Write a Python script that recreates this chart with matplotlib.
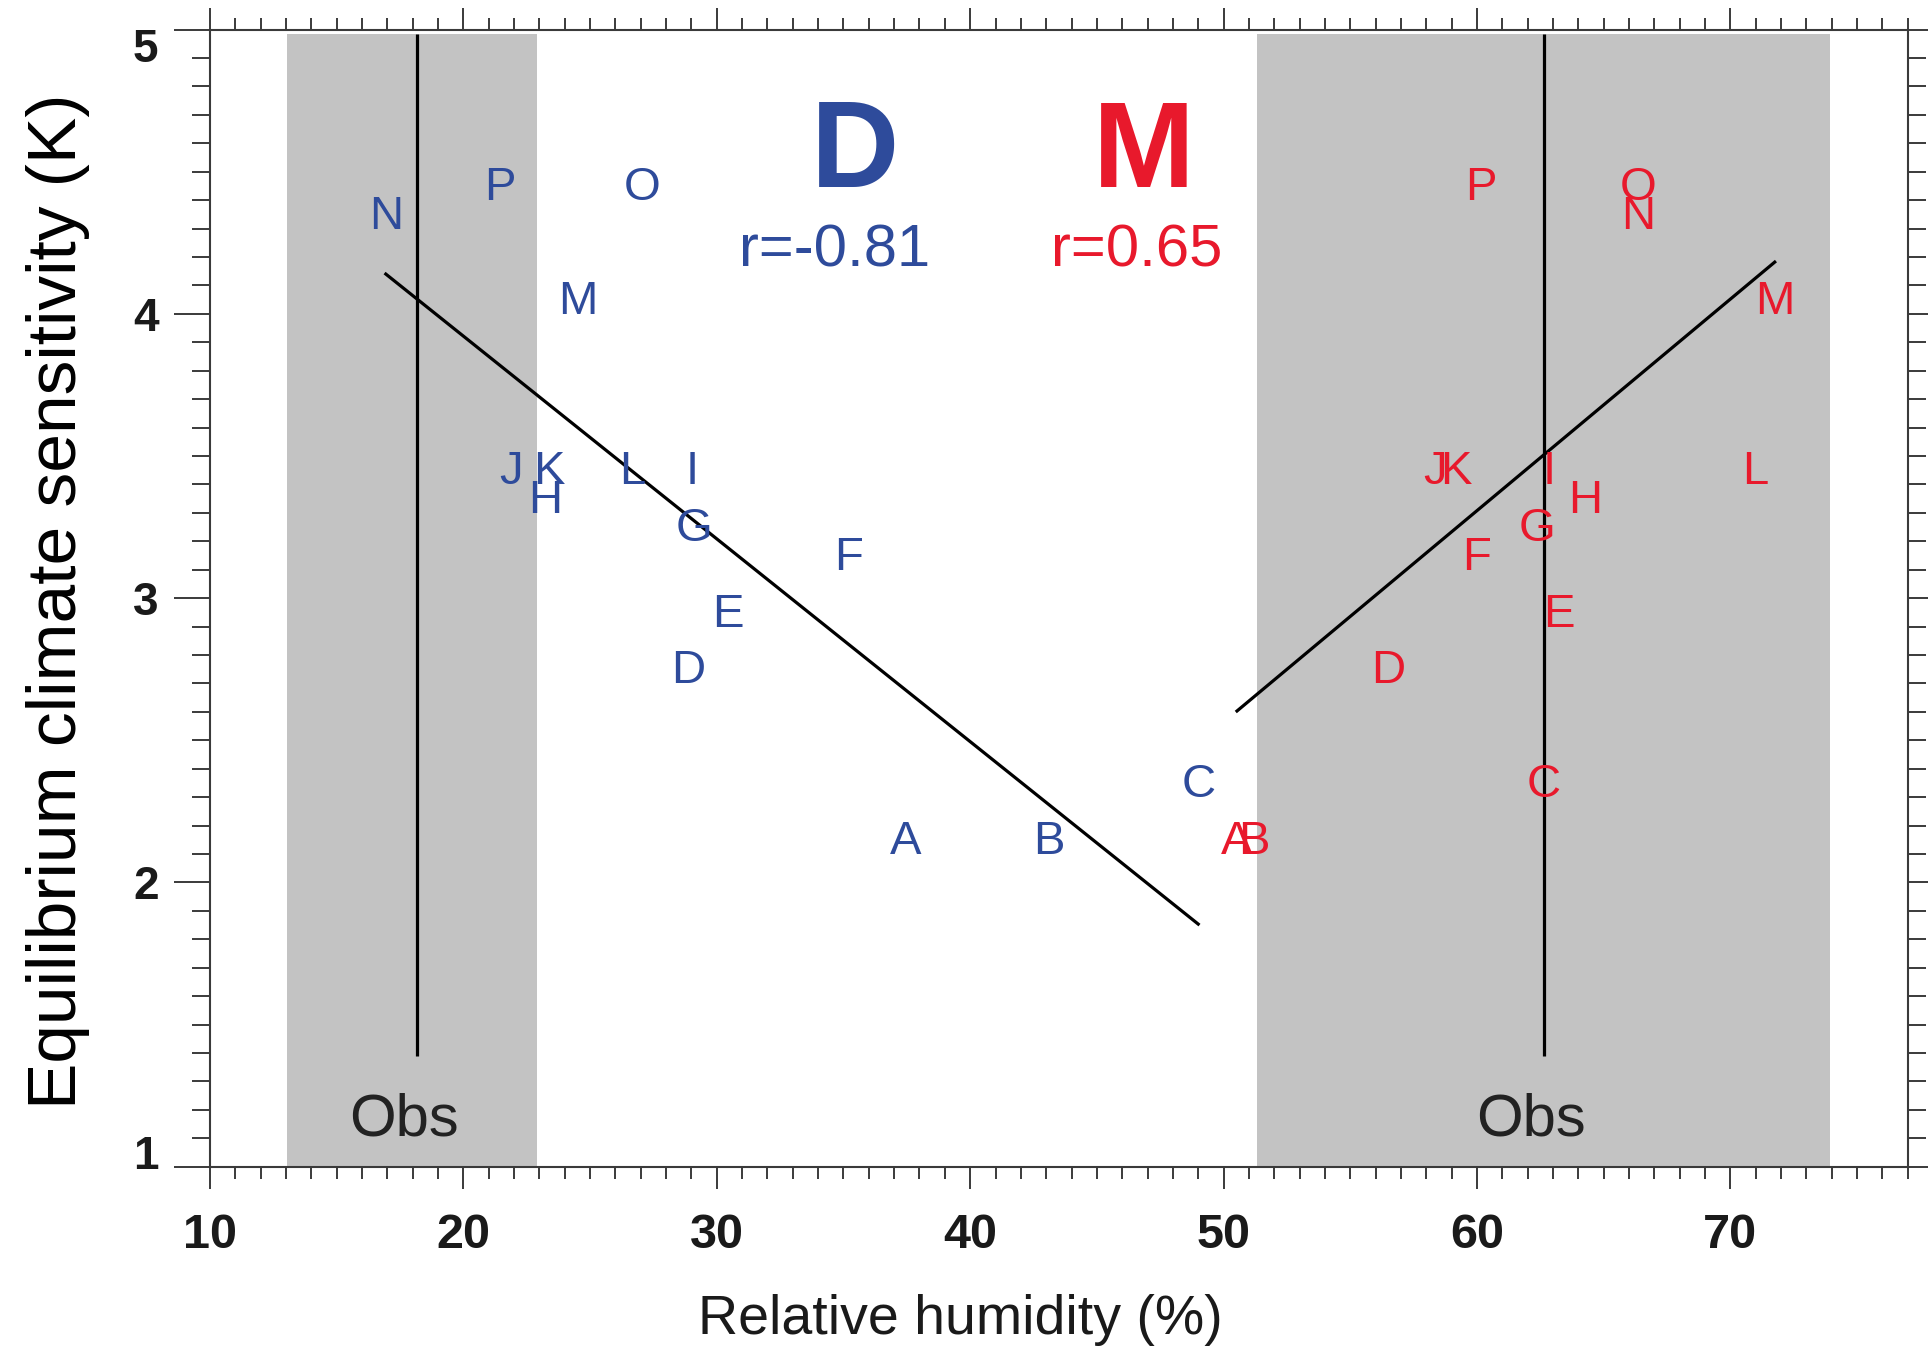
import numpy as np
import matplotlib
matplotlib.use("Agg")
import matplotlib.pyplot as plt
import matplotlib.transforms as mtransforms

plt.rcParams['font.family'] = ['Liberation Sans', 'DejaVu Sans']

# Model identifiers and their equilibrium climate sensitivity (K)
models = list("ABCDEFGHIJKLMNOP")
ecs = [2.1, 2.1, 2.3, 2.7, 2.9, 3.1, 3.2, 3.3, 3.4, 3.4, 3.4, 3.4, 4.0, 4.3, 4.4, 4.4]

# Relative humidity (%) in the dry (D) and moist (M) regions for each model
rh_dry = [37.45, 43.11, 49.0, 28.86, 30.44, 35.21, 29.11, 23.22,
          29.03, 21.88, 23.37, 26.67, 24.50, 16.94, 27.07, 21.46]
rh_moist = [50.53, 51.19, 62.65, 56.51, 63.24, 59.99, 62.36, 64.28,
            62.84, 58.36, 59.18, 70.98, 71.75, 66.35, 66.35, 60.17]

# Correlation coefficients and regression lines (slope, intercept)
r_dry, r_moist = -0.81, 0.65
fit_dry = (-0.07132, 5.348)
fit_moist = (0.07441, -1.157)

# Observational estimates: central value and range
obs_dry_mean = 18.16
obs_dry_range = (13.03, 22.90)
obs_moist_mean = 62.64
obs_moist_range = (51.32, 73.93)

xticks = [10, 20, 30, 40, 50, 60, 70]
yticks = [1, 2, 3, 4, 5]

BLUE = '#2E4B9B'
RED = '#E8192C'
GRAY = '#C3C3C3'
AXC = '#3a3a3a'

fig = plt.figure(figsize=(19.28, 13.48), dpi=100)
ax = fig.add_axes([0.1089, 0.1345, 0.8806, 0.8436])
ax.set_xlim(10, 77)
ax.set_ylim(1, 5)

band_top = 4.985
obs_line_bottom = 1.39
for (lo, hi), xm in ((obs_dry_range, obs_dry_mean), (obs_moist_range, obs_moist_mean)):
    ax.fill_between([lo, hi], 1, band_top, color=GRAY, lw=0, zorder=0)
    ax.plot([xm, xm], [obs_line_bottom, band_top], color='k', lw=2.3, zorder=2,
            solid_capstyle='butt')
    ax.text(xm - 0.5, 1.11, 'Obs', color='#222222', fontsize=43,
            ha='center', va='baseline', zorder=3)

# Regression lines spanning each model cloud
for rh, (m, b) in ((rh_dry, fit_dry), (rh_moist, fit_moist)):
    xs = np.array([min(rh), max(rh)])
    ax.plot(xs, m * xs + b, color='k', lw=2.3, zorder=3)

# Model letters
for name, e, xd, xm in zip(models, ecs, rh_dry, rh_moist):
    ax.text(xd, e, name, color=BLUE, fontsize=34, ha='center', va='baseline', zorder=4)
    ax.text(xm, e, name, color=RED, fontsize=34, ha='center', va='baseline', zorder=4)

# Panel headings and correlations
ax.text(35.45, 4.445, 'D', color=BLUE, fontsize=88, fontweight='bold',
        ha='center', va='baseline')
ax.text(46.85, 4.447, 'M', color=RED, fontsize=88, fontweight='bold',
        ha='center', va='baseline')
ax.text(34.66, 4.168, f'r={r_dry:.2f}', color=BLUE, fontsize=43,
        ha='center', va='baseline')
ax.text(46.58, 4.168, f'r={r_moist:.2f}', color=RED, fontsize=43,
        ha='center', va='baseline')

# Axes, ticks and labels
ax.set_xticks(xticks)
ax.set_xticks(np.arange(10, 78, 1), minor=True)
ax.set_yticks(yticks)
ax.set_yticks(np.arange(1, 5.001, 0.1), minor=True)
ax.set_xticklabels([str(v) for v in xticks])
ax.set_yticklabels([str(v) for v in yticks])

ax.tick_params(axis='x', which='major', direction='out', length=15.6, width=1.4,
               top=True, bottom=True, labelsize=35, pad=18, color=AXC)
ax.tick_params(axis='x', which='minor', direction='out', length=8.4, width=1.4,
               top=True, bottom=True, color=AXC)
ax.tick_params(axis='y', which='major', direction='out', length=26, width=1.4,
               left=True, right=True, labelsize=33, pad=11, color=AXC)
ax.tick_params(axis='y', which='minor', direction='out', length=13, width=1.4,
               left=True, right=True, color=AXC)

for lbl in ax.get_xticklabels() + ax.get_yticklabels():
    lbl.set_fontweight('bold')
    lbl.set_color('#1a1a1a')

# keep the end labels of the y axis inside the frame
ylabels = ax.get_yticklabels()
shift = 15 / 100
ylabels[0].set_transform(ylabels[0].get_transform() +
                         mtransforms.ScaledTranslation(0, shift, fig.dpi_scale_trans))
ylabels[-1].set_transform(ylabels[-1].get_transform() +
                          mtransforms.ScaledTranslation(0, -shift, fig.dpi_scale_trans))

for s in ax.spines.values():
    s.set_color(AXC)
    s.set_linewidth(1.5)

ax.set_xlabel('Relative humidity (%)', fontsize=40, color='#1a1a1a', va='baseline')
ax.xaxis.set_label_coords(0.442, -0.147)
ax.set_ylabel('Equilibrium climate sensitivity (K)', fontsize=50, color='black',
              va='baseline')
ax.yaxis.set_label_coords(-0.0789, 0.497)

fig.savefig('out.png', dpi=100)
